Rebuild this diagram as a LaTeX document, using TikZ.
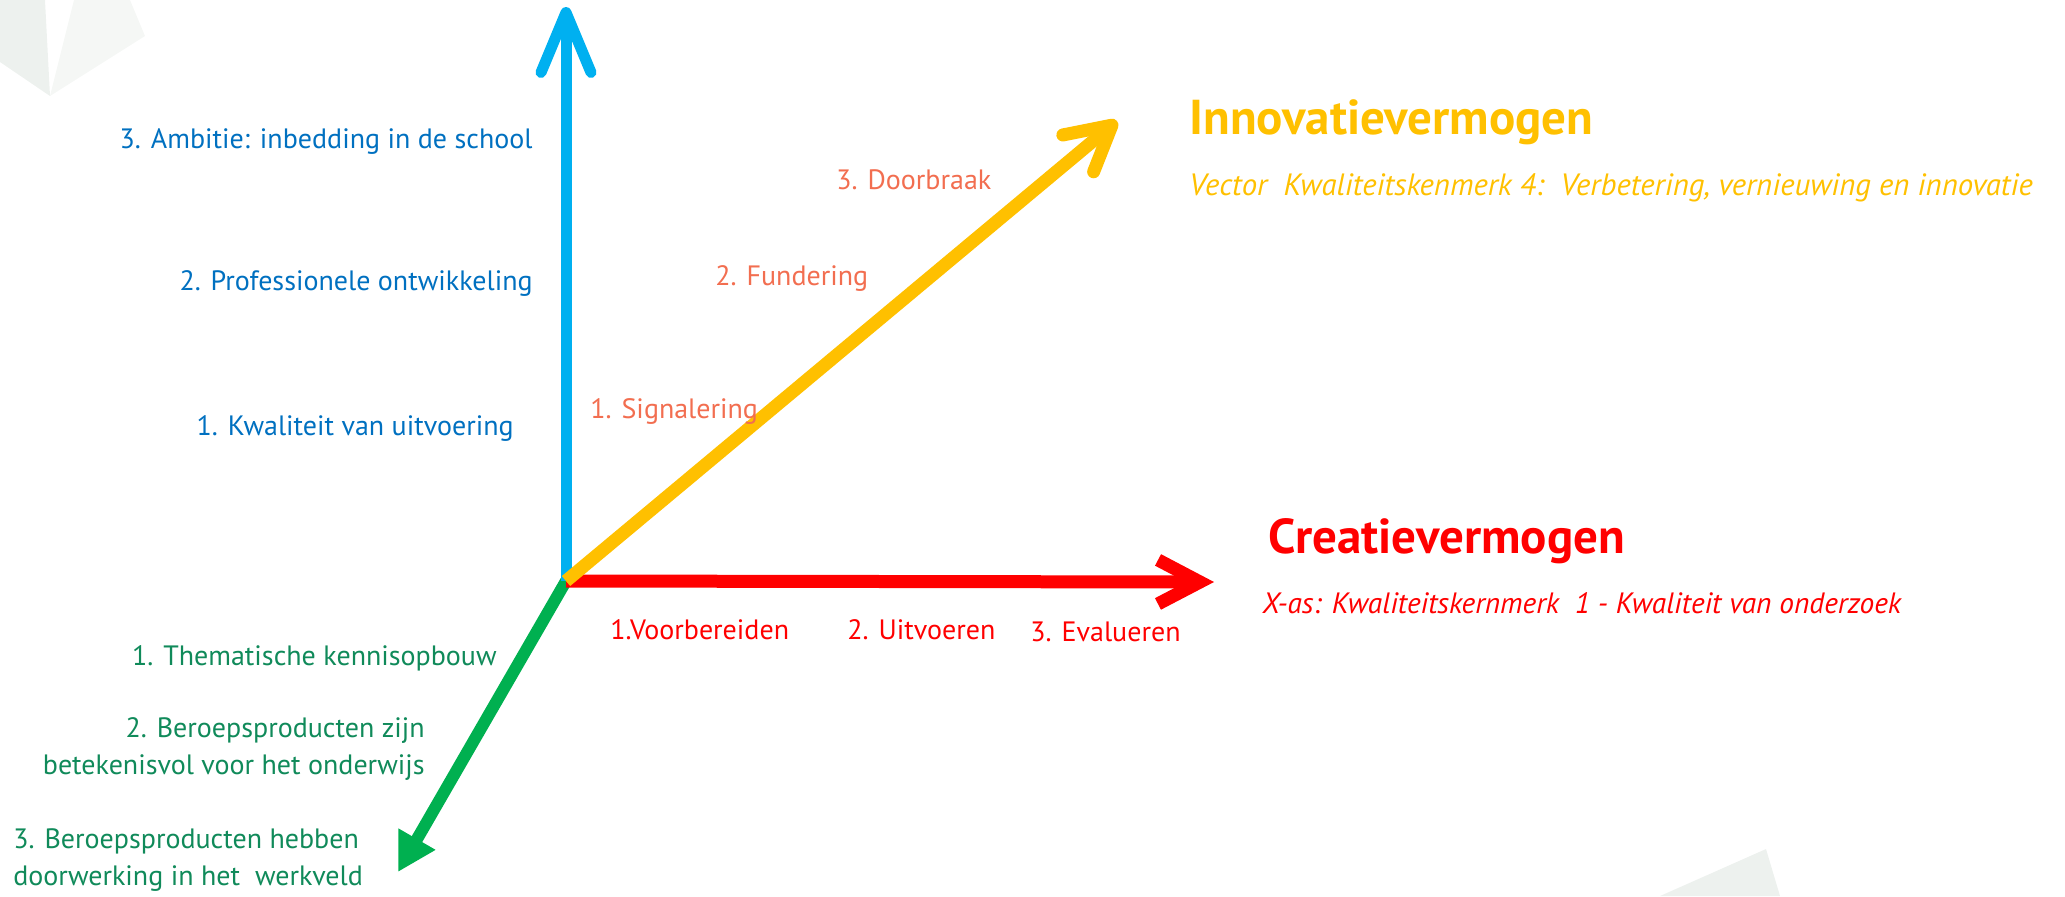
\documentclass[tikz,border=0pt]{standalone}
\usepackage{fontspec}
\setmainfont{PT Sans}
\usetikzlibrary{arrows.meta}
\definecolor{axisblue}{HTML}{00B0F0}
\definecolor{axisyellow}{HTML}{FFC000}
\definecolor{axisred}{HTML}{FF0000}
\definecolor{axisgreen}{HTML}{00B050}
\definecolor{textblue}{HTML}{0070C0}
\definecolor{textsalmon}{RGB}{242,110,80}
\definecolor{textgreen}{RGB}{16,138,90}
\definecolor{bgdark}{HTML}{EDF1EE}
\definecolor{bglight}{HTML}{F5F7F5}
\begin{document}
\begin{tikzpicture}[x=0.5pt, y=-0.5pt,
  axis/.style = {line width=5.5pt},
  lbl/.style = {font=\fontsize{14}{18.5}\selectfont, inner sep=0pt},
  bigtitle/.style = {font=\fontsize{24.5}{28}\selectfont\bfseries, inner sep=0pt, anchor=west},
  subtitle/.style = {font=\fontsize{15.4}{18}\selectfont\itshape, inner sep=0pt, anchor=west}]
\useasboundingbox (0,0) rectangle (2065,896);
% faint background shapes
\fill[bgdark] (0,0) -- (45,0) -- (50,96) -- (0,62) -- cycle;
\fill[bglight] (74,0) -- (130,0) -- (145,36) -- (50,96) -- cycle;
\fill[bgdark] (1660,896) -- (1766,849) -- (1780,896) -- cycle;

% axes
\coordinate (O) at (566,581);
\coordinate (vtip) at (566,7);
\coordinate (htip) at (1214,582);
\coordinate (dtip) at (1117,121);
\coordinate (gtip) at (398,872);
\draw[axis, axisgreen, line width=6pt, -{Triangle[length=19pt,width=20pt]}] (O) -- (gtip);
\draw[axis, axisblue, -{Straight Barb[length=30pt,width=25pt,round]}] (O) -- (vtip);
\draw[axis, axisred, line width=6.5pt, -{Straight Barb[length=21pt,width=22pt]}] (O) -- (htip);
\draw[axis, axisyellow, line width=6.5pt, -{Straight Barb[length=22pt,width=24pt,round]}] (O) -- (dtip);

% blue axis
\node[lbl, textblue, anchor=east] (b3) at (533,142) {3. Ambitie: inbedding in de school};
\node[lbl, textblue, anchor=east] (b2) at (533,283) {2. Professionele ontwikkeling};
\node[lbl, textblue, anchor=east] (b1) at (514,428) {1. Kwaliteit van uitvoering};

% yellow axis
\node[lbl, textsalmon, anchor=west] (y3) at (836,180) {3. Doorbraak};
\node[lbl, textsalmon, anchor=west] (y2) at (715,278) {2. Fundering};
\node[lbl, textsalmon, anchor=west] (y1) at (590,411) {1. Signalering};
\node[bigtitle, axisyellow] (inno) at (1189,122) {Innovatievermogen};
\node[subtitle, axisyellow] (innosub) at (1189,188) {Vector\ \ Kwaliteitskenmerk 4:\ \ Verbetering, vernieuwing en innovatie};

% red axis
\node[lbl, axisred, anchor=west] (r1) at (610,630) {1.Voorbereiden};
\node[lbl, axisred, anchor=west] (r2) at (847,630) {2. Uitvoeren};
\node[lbl, axisred, anchor=west] (r3) at (1030,632) {3. Evalueren};
\node[bigtitle, axisred] (crea) at (1268,541) {Creatievermogen};
\node[subtitle, axisred, font=\fontsize{14.7}{18}\selectfont\itshape] (creasub) at (1262,603) {X-as: Kwaliteitskernmerk\ \ 1 - Kwaliteit van onderzoek};

% green axis
\node[lbl, textgreen, anchor=east] (g1) at (497,658) {1. Thematische kennisopbouw};
\node[lbl, textgreen, anchor=east, align=right] (g2) at (425,749) {2. Beroepsproducten zijn\\betekenisvol voor het onderwijs};
\node[lbl, textgreen, anchor=west, align=left] (g3) at (13,860) {3. Beroepsproducten hebben\\doorwerking in het\ \ werkveld};
\end{tikzpicture}
\end{document}
